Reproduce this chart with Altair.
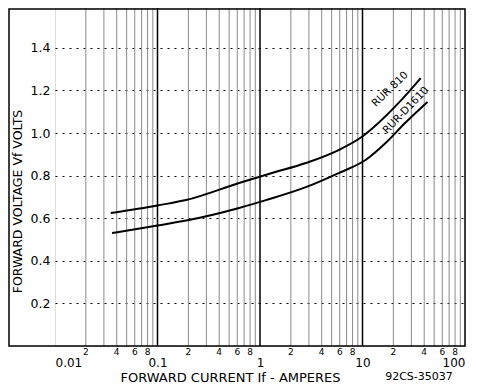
import altair as alt
import pandas as pd

# ---- data ----
rur810_current = [0.035, 0.1, 0.19, 0.625, 1.31, 2.8, 5.85, 9.8, 14.3, 22.4, 37]
rur810_voltage = [0.624, 0.66, 0.685, 0.765, 0.812, 0.859, 0.92, 0.981, 1.047, 1.14, 1.258]

d1610_current = [0.036, 0.1, 0.195, 0.625, 1.14, 2.8, 5.85, 10.7, 16.8, 26, 43]
d1610_voltage = [0.53, 0.566, 0.59, 0.648, 0.685, 0.746, 0.812, 0.873, 0.953, 1.047, 1.146]

decades = [0.01, 0.1, 1, 10, 100]
decade_labels = ["0.01", "0.1", "1", "10", "100"]
minor_mults = [2, 3, 4, 5, 6, 7, 8, 9]
minor_label_mults = [2, 4, 6, 8]
y_ticks = [0.2, 0.4, 0.6, 0.8, 1.0, 1.2, 1.4]

curve_labels = ["RUR 810", "RUR-D1610"]
curve_label_x = [18.6, 26.5]
curve_label_y = [1.205, 1.106]
curve_label_angle = [316, 314]

# ---- tables ----
curves = pd.concat([
    pd.DataFrame({"I": rur810_current, "V": rur810_voltage, "s": "RUR 810"}),
    pd.DataFrame({"I": d1610_current, "V": d1610_voltage, "s": "RUR-D1610"}),
])
minor_lines = pd.DataFrame({"I": [d * m for d in decades[:-1] for m in minor_mults]})
major_lines = pd.DataFrame({"I": decades[1:-1]})
minor_lbl = pd.DataFrame({
    "I": [d * m for d in decades[:-1] for m in minor_label_mults],
    "t": [str(m) for d in decades[:-1] for m in minor_label_mults],
})
lbl = pd.DataFrame({"I": curve_label_x, "V": curve_label_y, "t": curve_labels,
                    "a": curve_label_angle})

W, H = 410, 338
FONT = "DejaVu Sans"
label_expr = "datum.value == 0.01 ? '0.01' : datum.value == 0.1 ? '0.1' : datum.value == 1 ? '1' : datum.value == 10 ? '10' : '100'"

xscale = alt.Scale(type="log", domain=[0.01, 100], nice=False)
yscale = alt.Scale(domain=[0, 338 / 213.0], nice=False, zero=False)

xaxis = alt.Axis(values=decades, labelExpr=label_expr, grid=False, ticks=False,
                 domain=False, labelFont=FONT, labelFontSize=12, labelPadding=11,
                 labelColor="black", title="FORWARD CURRENT  If  - AMPERES",
                 titleFont=FONT, titleFontSize=13, titleFontWeight="normal",
                 titleColor="black", titleX=175, titleY=31, titleBaseline="middle")
yaxis = alt.Axis(values=y_ticks, format=".1f", grid=True, gridColor="black",
                 gridDash=[2, 5], gridWidth=1, ticks=False, domain=False,
                 labelFont=FONT, labelFontSize=12.5, labelPadding=5, labelColor="black",
                 title="FORWARD VOLTAGE  Vf  VOLTS", titleFont=FONT, titleFontSize=12.5,
                 titleFontWeight="normal", titleColor="black", titleAngle=270,
                 titleX=-38, titleY=193, titleAlign="center", titleBaseline="middle")

base_line = alt.Chart(curves).mark_line(color="black", strokeWidth=2,
                                         interpolate="monotone").encode(
    x=alt.X("I:Q", scale=xscale, axis=xaxis),
    y=alt.Y("V:Q", scale=yscale, axis=yaxis),
    detail="s:N",
)

minor_rules = alt.Chart(minor_lines).mark_rule(color="#8a8a8a", strokeWidth=1).encode(
    x=alt.X("I:Q", scale=xscale), y=alt.value(0), y2=alt.value(H))
major_rules = alt.Chart(major_lines).mark_rule(color="black", strokeWidth=1.5).encode(
    x=alt.X("I:Q", scale=xscale), y=alt.value(0), y2=alt.value(H))

minor_text = alt.Chart(minor_lbl).mark_text(font=FONT, fontSize=9, color="black",
                                            baseline="middle").encode(
    x=alt.X("I:Q", scale=xscale), y=alt.value(H + 6), text="t:N")

curve_text = alt.Chart(lbl).mark_text(font=FONT, fontSize=10.5, color="black",
                                      baseline="middle").encode(
    x=alt.X("I:Q", scale=xscale), y=alt.Y("V:Q", scale=yscale), text="t:N",
    angle=alt.Angle("a:Q", scale=None))

code_text = alt.Chart(pd.DataFrame({"t": ["92CS-35037"]})).mark_text(
    font=FONT, fontSize=11, color="black", baseline="middle").encode(
    x=alt.value(364), y=alt.value(H + 31), text="t:N")

frame = alt.Chart(pd.DataFrame({"k": [0]})).mark_rect(
    fill=None, fillOpacity=0, stroke="black", strokeWidth=1.5).encode(
    x=alt.value(-46), x2=alt.value(W), y=alt.value(1), y2=alt.value(H))

chart = alt.layer(minor_rules, major_rules, base_line, minor_text, curve_text,
                  code_text, frame).properties(
    width=W, height=H,
    autosize=alt.AutoSizeParams(type="none"),
    padding={"left": 47, "top": 0, "right": 6, "bottom": 38},
).configure_view(stroke=None).configure(background="white")

chart.save("out.html", embed_options={"renderer": "svg", "actions": False})
